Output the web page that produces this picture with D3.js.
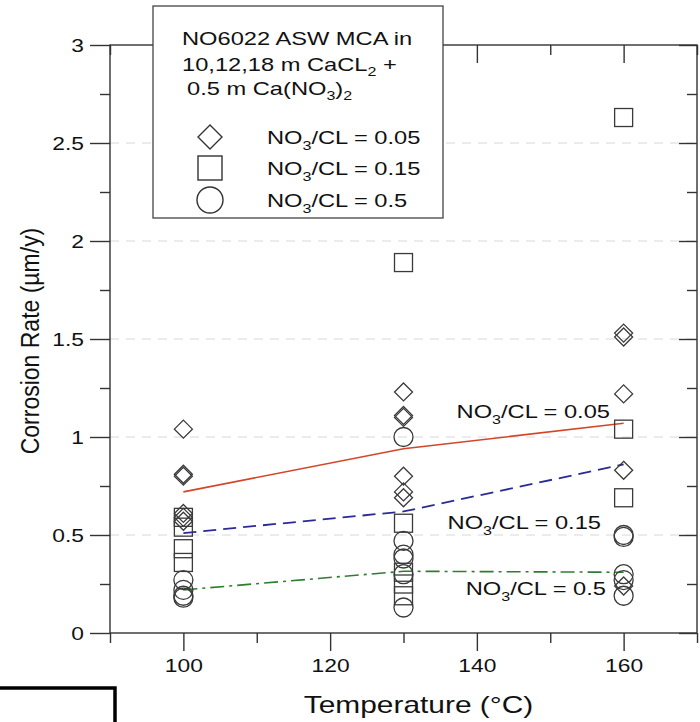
<!DOCTYPE html>
<html>
<head>
<meta charset="utf-8">
<script src="https://cdn.jsdelivr.net/npm/d3@7"></script>
<style>
  html, body { margin: 0; padding: 0; background: #fff; }
  svg text { font-family: "Liberation Sans", Arial, sans-serif; fill: #111; }
</style>
</head>
<body>
<svg id="chart" width="700" height="722"></svg>
<script>
// Corrosion rate of NO6022 at three temperatures, by NO3/Cl ratio
const temps = [100, 130, 160];

// measured points for each ratio, grouped by temperature
const diamond05 = [
  [1.04, 0.81, 0.80, 0.61, 0.59, 0.57],
  [1.23, 1.11, 1.10, 0.80, 0.72, 0.69],
  [1.53, 1.51, 1.22, 0.83, 0.24]
];
const square15 = [
  [0.59, 0.54, 0.43, 0.36],
  [1.89, 0.56, 0.31, 0.25, 0.19],
  [2.63, 1.04, 0.69]
];
const circle50 = [
  [0.27, 0.22, 0.19, 0.18],
  [1.00, 0.47, 0.40, 0.38, 0.30, 0.13],
  [0.50, 0.49, 0.30, 0.27, 0.19]
];

// model curves
const fit05 = [0.72, 0.94, 1.07];
const fit15 = [0.51, 0.62, 0.86];
const fit50 = [0.22, 0.315, 0.31];

const xTicks = [100, 120, 140, 160];
const xMinor = [90, 110, 130, 150, 170];
const yTicks = [0, 0.5, 1, 1.5, 2, 2.5, 3];
const yMinor = [0.25, 0.75, 1.25, 1.75, 2.25, 2.75];

const svg = d3.select("#chart");
const L = 110, R = 697, T = 45, B = 633;
const x = d3.scaleLinear().domain([90, 170]).range([L, R]);
const y = d3.scaleLinear().domain([0, 3]).range([B, T]);
const axisColor = "#333";
const WIDE = 1.28; // horizontal widening used for the lettering

// widen a text element horizontally while keeping its anchor point
function widen(sel, sx) {
  sel.each(function () {
    const t = d3.select(this);
    const px = +t.attr("x") || 0;
    t.attr("x", px / sx).attr("transform", `scale(${sx},1)`);
  });
}

// horizontal dashed grid
svg.append("g").selectAll("line").data(yTicks.filter(v => v > 0 && v < 3)).join("line")
  .attr("x1", L).attr("x2", R).attr("y1", d => y(d)).attr("y2", d => y(d))
  .attr("stroke", "#d8d8d8").attr("stroke-width", 1).attr("stroke-dasharray", "9,7");

// frame
svg.append("rect").attr("x", L).attr("y", T).attr("width", R - L).attr("height", B - T)
  .attr("fill", "none").attr("stroke", axisColor).attr("stroke-width", 1.4);

function styleTicks(g) {
  g.select(".domain").remove();
  g.selectAll(".tick line").attr("stroke", axisColor).attr("stroke-width", 1.4);
}

// bottom axis (outward ticks)
const gx = svg.append("g").attr("transform", `translate(0,${B})`)
  .call(d3.axisBottom(x).tickValues(xTicks).tickSize(18).tickPadding(8).tickFormat(d3.format("d")));
styleTicks(gx);
gx.selectAll(".tick text").attr("font-size", 19).attr("fill", "#111")
  .style("font-family", "'Liberation Sans', Arial, sans-serif").call(widen, 1.2);
svg.append("g").attr("transform", `translate(0,${B})`)
  .call(d3.axisBottom(x).tickValues(xMinor).tickSize(10).tickFormat("")).call(styleTicks);

// top mirror ticks (inward)
svg.append("g").attr("transform", `translate(0,${T})`)
  .call(d3.axisBottom(x).tickValues(xTicks).tickSize(18).tickFormat("")).call(styleTicks);
svg.append("g").attr("transform", `translate(0,${T})`)
  .call(d3.axisBottom(x).tickValues(xMinor).tickSize(10).tickFormat("")).call(styleTicks);

// left axis (outward ticks)
const gy = svg.append("g").attr("transform", `translate(${L},0)`)
  .call(d3.axisLeft(y).tickValues(yTicks).tickSize(20).tickPadding(6).tickFormat(d => d));
styleTicks(gy);
gy.selectAll(".tick text").attr("font-size", 19).attr("fill", "#111")
  .style("font-family", "'Liberation Sans', Arial, sans-serif").call(widen, 1.2);
svg.append("g").attr("transform", `translate(${L},0)`)
  .call(d3.axisLeft(y).tickValues(yMinor).tickSize(10).tickFormat("")).call(styleTicks);

// right mirror ticks (inward)
svg.append("g").attr("transform", `translate(${R},0)`)
  .call(d3.axisRight(y).tickValues(yTicks).tickSize(-18).tickFormat("")).call(styleTicks);
svg.append("g").attr("transform", `translate(${R},0)`)
  .call(d3.axisRight(y).tickValues(yMinor).tickSize(-10).tickFormat("")).call(styleTicks);

// axis titles
svg.append("text").attr("x", (L + R) / 2 + 15).attr("y", 713).attr("text-anchor", "middle")
  .attr("font-size", 23).text("Temperature (°C)").call(widen, 1.3);
svg.append("text").attr("transform", `translate(39,${(T + B) / 2 + 2}) rotate(-90) scale(1,1.12)`)
  .attr("text-anchor", "middle").attr("font-size", 23).text("Corrosion Rate (µm/y)");

// model curves
const line = d3.line().x((d, i) => x(temps[i])).y(d => y(d));
svg.append("path").datum(fit05).attr("d", line).attr("fill", "none")
  .attr("stroke", "#d4462a").attr("stroke-width", 1.6);
svg.append("path").datum(fit15).attr("d", line).attr("fill", "none")
  .attr("stroke", "#2b2b95").attr("stroke-width", 1.8).attr("stroke-dasharray", "13,7");
svg.append("path").datum(fit50).attr("d", line).attr("fill", "none")
  .attr("stroke", "#2f7d2f").attr("stroke-width", 1.6).attr("stroke-dasharray", "14,5,3,5");

// markers
const flat = arr => arr.flatMap((vals, i) => vals.map(v => ({ t: temps[i], v })));
const gm = svg.append("g").attr("fill", "none").attr("stroke", "#3a3a3a").attr("stroke-width", 1.3);
gm.selectAll("path.dia").data(flat(diamond05)).join("path").attr("class", "dia")
  .attr("d", d => { const cx = x(d.t), cy = y(d.v), r = 9;
    return `M${cx},${cy - r}L${cx + r},${cy}L${cx},${cy + r}L${cx - r},${cy}Z`; });
gm.selectAll("rect.sq").data(flat(square15)).join("rect").attr("class", "sq")
  .attr("x", d => x(d.t) - 9).attr("y", d => y(d.v) - 9).attr("width", 18).attr("height", 18);
gm.selectAll("circle.ci").data(flat(circle50)).join("circle").attr("class", "ci")
  .attr("cx", d => x(d.t)).attr("cy", d => y(d.v)).attr("r", 9.5);

// "NO3/CL = v" label with subscript, widened
function ratioLabel(g, px, py, val, size, anchor) {
  const t = g.append("text").attr("x", px).attr("y", py).attr("font-size", size)
    .attr("text-anchor", anchor || "start");
  t.append("tspan").text("NO");
  t.append("tspan").attr("font-size", size * 0.68).attr("dy", size * 0.3).text("3");
  t.append("tspan").attr("dy", -size * 0.3).text("/CL = " + val);
  t.call(widen, WIDE);
  return t;
}
ratioLabel(svg, 610, 418, "0.05", 18.5, "end");
ratioLabel(svg, 601, 529, "0.15", 18.5, "end");
ratioLabel(svg, 606, 595, "0.5", 18.5, "end");

// legend box
const lg = svg.append("g");
lg.append("rect").attr("x", 153).attr("y", 6).attr("width", 290).attr("height", 212)
  .attr("fill", "#fff").attr("stroke", "#444").attr("stroke-width", 1.3);
lg.append("text").attr("x", 182).attr("y", 45).attr("font-size", 18.5).text("NO6022 ASW MCA in")
  .call(widen, WIDE);
const l2 = lg.append("text").attr("x", 182).attr("y", 71).attr("font-size", 18.5);
l2.append("tspan").text("10,12,18 m CaCL");
l2.append("tspan").attr("font-size", 12.5).attr("dy", 5).text("2");
l2.append("tspan").attr("dy", -5).text(" +");
l2.call(widen, WIDE);
const l3 = lg.append("text").attr("x", 187).attr("y", 95).attr("font-size", 18.5);
l3.append("tspan").text("0.5 m Ca(NO");
l3.append("tspan").attr("font-size", 12.5).attr("dy", 5).text("3");
l3.append("tspan").attr("dy", -5).text(")");
l3.append("tspan").attr("font-size", 12.5).attr("dy", 5).text("2");
l3.call(widen, WIDE);

const lgItems = ["0.05", "0.15", "0.5"];
const lgY = [137, 168, 200];
const lgSym = lg.append("g").attr("fill", "none").attr("stroke", "#333").attr("stroke-width", 1.4);
lgSym.append("path").attr("d", `M210,${lgY[0] - 12}L222,${lgY[0]}L210,${lgY[0] + 12}L198,${lgY[0]}Z`);
lgSym.append("rect").attr("x", 198).attr("y", lgY[1] - 12).attr("width", 24).attr("height", 24);
lgSym.append("circle").attr("cx", 210).attr("cy", lgY[2]).attr("r", 13);
lgItems.forEach((v, i) => ratioLabel(lg, 267, lgY[i] + 7, v, 18.5, "start"));

// corner frame at lower left
svg.append("path").attr("d", "M-5,688L115,688L115,730").attr("fill", "none")
  .attr("stroke", "#000").attr("stroke-width", 3.5);
</script>
</body>
</html>
